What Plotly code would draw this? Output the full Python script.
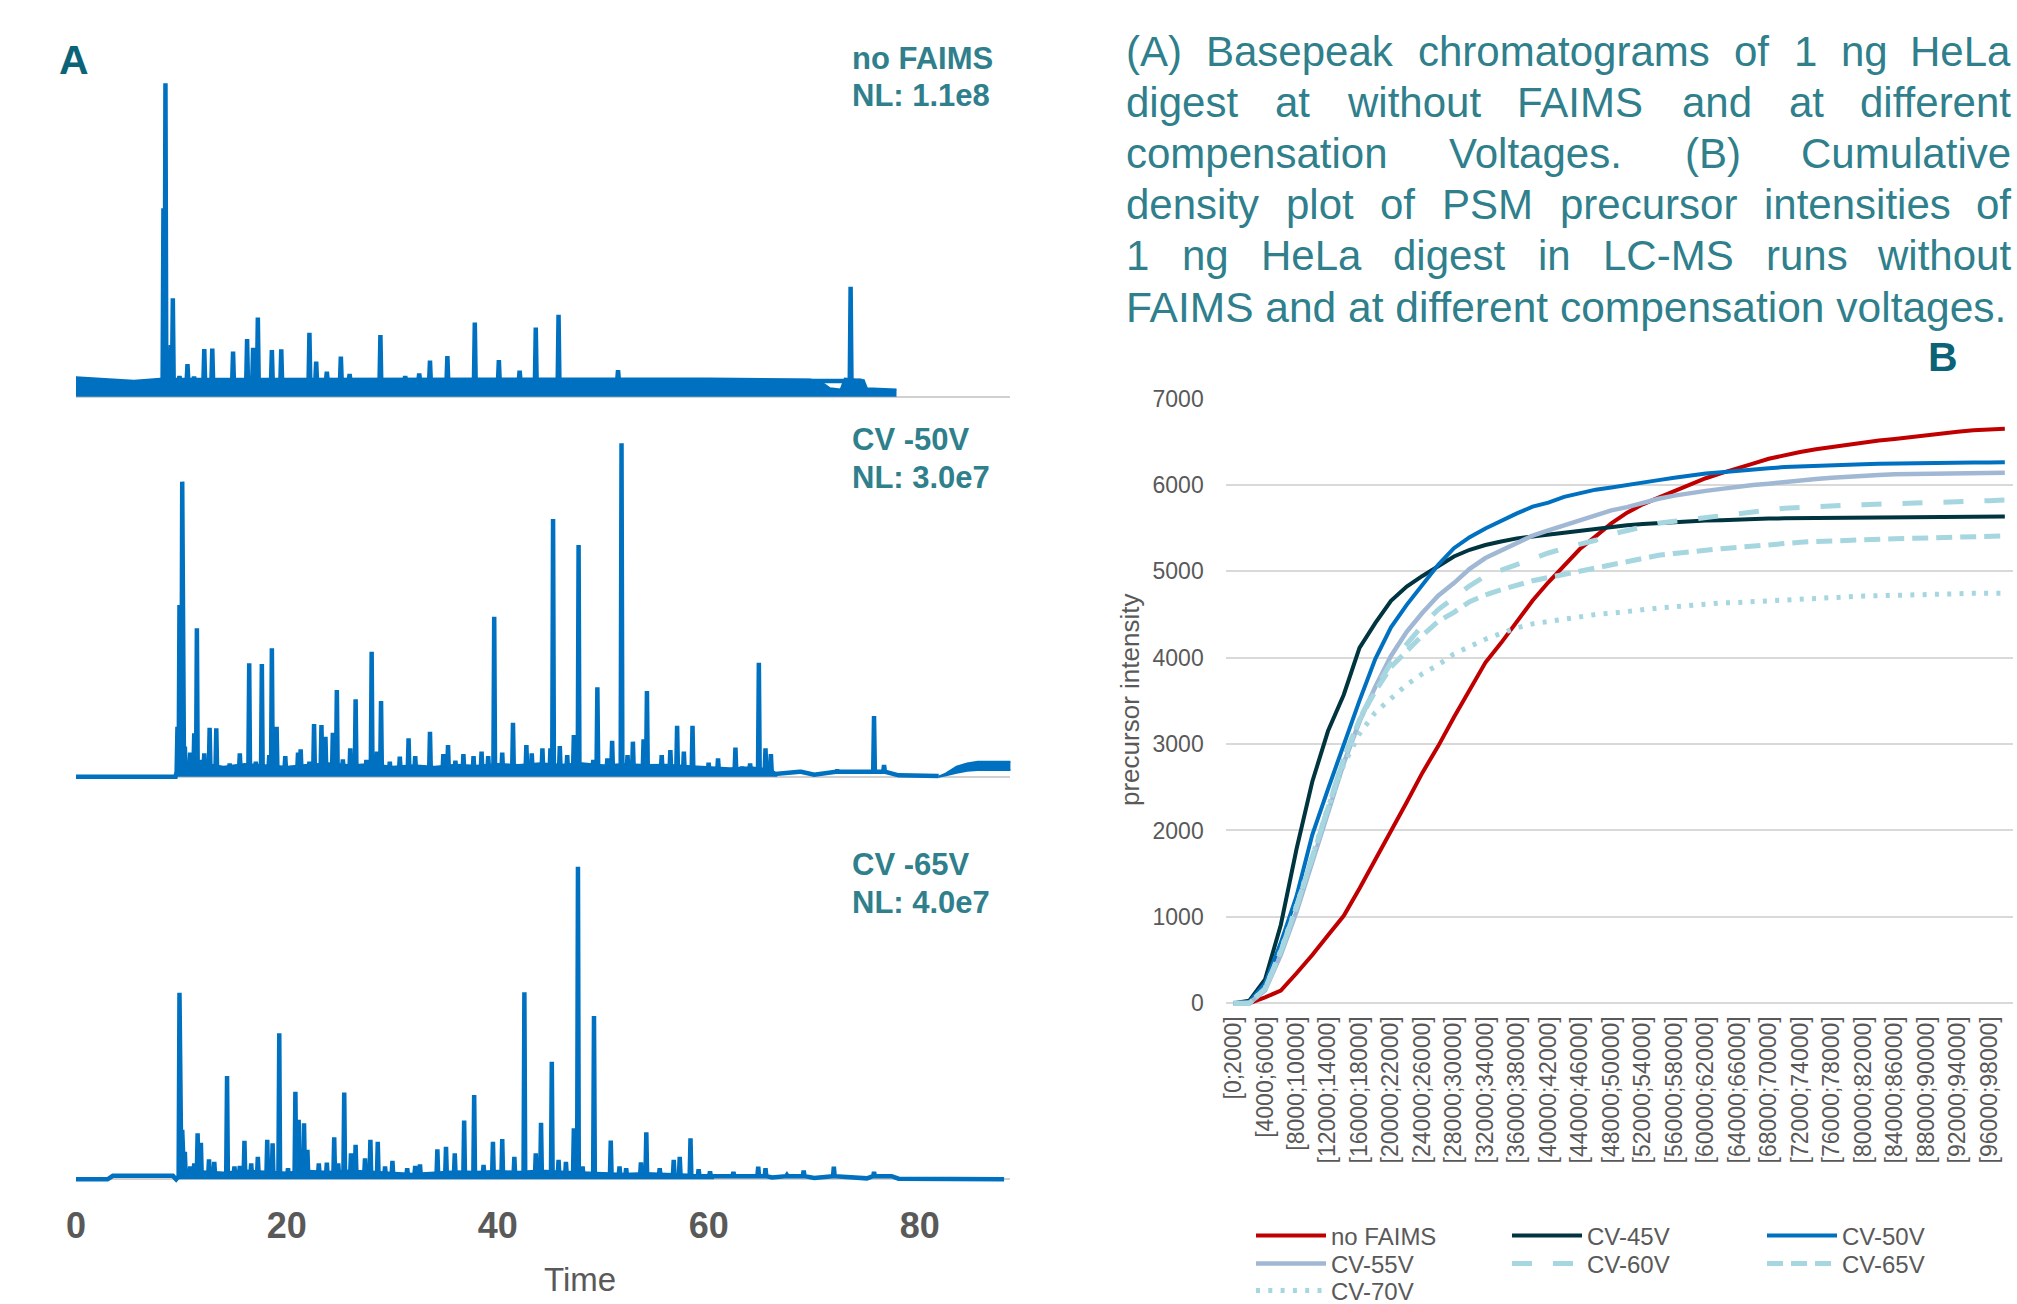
import plotly.graph_objects as go

W, H = 2017, 1304
FONT = "Liberation Sans, Arial, sans-serif"
TEAL = "#2F7F8C"
DARKTEAL = "#0B6377"
GRAY = "#595959"
BLUE = "#0070C0"


def px(x):
    return x / W


def py(y):
    return 1 - y / H


# ---------------- Panel A data (relative intensity, time in min) ----------------
# no FAIMS: thick noise band + peaks
top_band_t = [0, 2.0, 4.2, 5.5, 8.0, 20, 40, 60, 69.6, 70.6, 71.5, 72.5, 72.9, 74.7, 75.0, 77.8]
top_band_i = [0.062, 0.058, 0.055, 0.051, 0.057, 0.058, 0.058, 0.058, 0.055, 0.048, 0.027, 0.023, 0.058, 0.053,
              0.027, 0.023]
top_peak_t = [8.30, 8.49, 9.0, 9.19, 9.82, 10.58, 11.2, 12.17, 12.93, 14.9, 16.23, 16.8, 17.25, 18.58, 19.47,
              22.14, 22.78, 23.79, 25.12, 25.95, 28.87, 31.22, 32.55, 33.57, 35.22, 37.82, 40.1, 42.07, 43.6,
              45.76, 51.4, 71.35, 73.45, 74.3]
top_peak_i = [0.601, 1.0, 0.165, 0.314, 0.066, 0.104, 0.064, 0.152, 0.154, 0.144, 0.184, 0.156, 0.253, 0.149, 0.151,
              0.204, 0.112, 0.080, 0.128, 0.072, 0.197, 0.066, 0.074, 0.115, 0.130, 0.237, 0.117, 0.083, 0.221,
              0.261, 0.085, 0.051, 0.351, 0.055]

# CV -50V
mid_band_t = [9.5, 10.0, 12, 14, 16, 18, 20, 22, 24, 26, 28, 30, 32, 34, 36, 38, 40, 42, 44, 46, 48, 50,
              52, 54, 56, 58, 60, 62, 64, 65.9, 66.5]
mid_band_i = [0.0, 0.045, 0.04, 0.03, 0.038, 0.035, 0.03, 0.036, 0.04, 0.034, 0.038, 0.03, 0.034, 0.03, 0.036,
              0.033, 0.038, 0.035, 0.04, 0.036, 0.04, 0.034, 0.038, 0.035, 0.036, 0.032, 0.028, 0.025, 0.028,
              0.022, 0.004]
mid_tail_t = [81.8, 82.5, 83.5, 84.5, 85.5, 86.5, 87.5, 88.7]
mid_tail_lo = [0.0, 0.004, 0.012, 0.018, 0.02, 0.02, 0.02, 0.02]
mid_tail_hi = [0.0, 0.01, 0.03, 0.04, 0.045, 0.045, 0.047, 0.045]
mid_base_t = [0, 9.45, 66.3, 70.0, 78.0, 81.8]
mid_base_i = [0, 0, 0.008, 0.006, 0.004, 0.002]
mid_peak_t = [9.63, 9.82, 10.08, 10.33, 10.84, 11.22, 11.47, 11.85, 12.17, 12.68, 13.31, 14.58, 15.54, 16.43,
              17.06, 17.63, 18.33, 18.58, 19.03, 19.85, 21.06, 21.31, 22.14, 22.58, 23.28, 23.66, 24.36, 24.74,
              25.31, 26.01, 26.52, 27.54, 28.04, 28.55, 28.93, 29.76, 30.71, 31.54, 32.17, 33.57, 34.84, 35.28,
              35.98, 36.74, 37.7, 38.46, 39.09, 39.66, 40.42, 41.44, 42.71, 43.22, 44.23, 44.99, 45.24, 45.88,
              46.58, 47.21, 47.66, 49.05, 49.44, 50.39, 50.84, 51.73, 52.3, 52.81, 53.82, 54.14, 55.54, 56.36,
              57.0, 57.64, 58.46, 59.23, 59.99, 60.88, 62.53, 63.16, 63.92, 64.75, 65.38, 65.89,
              68.68, 72.18, 73.76, 75.67, 76.62]
mid_peak_i = [0.15, 0.515, 0.885, 0.09, 0.072, 0.13, 0.445, 0.05, 0.07, 0.147, 0.145, 0.04, 0.07, 0.34,
              0.045, 0.338, 0.065, 0.385, 0.15, 0.062, 0.072, 0.082, 0.045, 0.158, 0.155, 0.12, 0.132, 0.26,
              0.052, 0.085, 0.232, 0.05, 0.375, 0.075, 0.227, 0.045, 0.06, 0.115, 0.062, 0.135, 0.068, 0.095,
              0.048, 0.068, 0.062, 0.075, 0.062, 0.48, 0.072, 0.162, 0.095, 0.07, 0.085, 0.085, 0.773, 0.092,
              0.065, 0.125, 0.695, 0.05, 0.268, 0.055, 0.108, 1.0, 0.065, 0.105, 0.112, 0.257, 0.065, 0.08,
              0.153, 0.075, 0.153, 0.03, 0.042, 0.055, 0.087, 0.03, 0.04, 0.342, 0.085, 0.068,
              0.015, 0.02, 0.015, 0.182, 0.035]

# CV -65V
bot_band_t = [9.7, 10.0, 12, 14, 16, 18, 20, 22, 24, 26, 28, 30, 32, 34, 36, 38, 40, 42, 44, 46, 48, 50,
              52, 54, 56, 58, 60.5]
bot_band_i = [0.0, 0.03, 0.026, 0.022, 0.028, 0.025, 0.022, 0.027, 0.024, 0.028, 0.025, 0.02, 0.018, 0.022,
              0.026, 0.024, 0.027, 0.024, 0.028, 0.025, 0.022, 0.02, 0.018, 0.02, 0.017, 0.015, 0.004]
bot_base_t = [0, 3.0, 3.5, 9.2, 9.5, 66.0, 70.0, 75.0, 78.0, 88.0]
bot_base_i = [0, 0, 0.011, 0.011, 0.0, 0.006, 0.004, 0.003, 0.002, 0.0]
bot_peak_t = [9.82, 10.08, 10.33, 10.84, 11.22, 11.54, 11.85, 12.62, 13.12, 14.33, 15.03, 15.54, 15.98, 16.62,
              17.25, 18.14, 18.65, 19.28, 20.11, 20.81, 21.12, 21.63, 21.95, 23.03, 23.79, 24.49, 24.87, 25.44,
              26.08, 26.52, 27.41, 27.92, 28.62, 29.31, 30.01, 31.41, 32.17, 32.62, 34.27, 35.09, 35.92, 36.81,
              37.76, 38.65, 39.54, 40.42, 41.57, 42.52, 43.6, 44.1, 45.12, 45.76, 46.46, 47.21, 47.6, 48.04,
              49.12, 50.71, 51.54, 52.17, 53.57, 54.08, 55.35, 56.68, 57.25, 58.27, 59.04, 60.12, 62.34, 64.69,
              65.38, 67.41, 69.0, 71.86, 75.67, 77.25]
bot_peak_i = [0.597, 0.158, 0.088, 0.041, 0.051, 0.147, 0.117, 0.064, 0.056, 0.33, 0.041, 0.043, 0.123, 0.051,
              0.072, 0.126, 0.115, 0.467, 0.035, 0.28, 0.19, 0.179, 0.094, 0.051, 0.053, 0.134, 0.051, 0.278,
              0.083, 0.11, 0.067, 0.126, 0.12, 0.041, 0.059, 0.035, 0.043, 0.048, 0.096, 0.104, 0.083, 0.188,
              0.27, 0.046, 0.12, 0.129, 0.072, 0.598, 0.083, 0.181, 0.376, 0.062, 0.056, 0.163, 1.0, 0.041,
              0.522, 0.124, 0.041, 0.035, 0.054, 0.15, 0.035, 0.062, 0.072, 0.131, 0.032, 0.025, 0.024, 0.04,
              0.035, 0.014, 0.028, 0.04, 0.024, 0.011]

time_ticks = [0, 20, 40, 60, 80]

# ---------------- Panel B data ----------------
categories = ["[0;2000]", "[2000;4000]", "[4000;6000]", "[6000;8000]", "[8000;10000]",
              "[10000;12000]", "[12000;14000]", "[14000;16000]", "[16000;18000]", "[18000;20000]",
              "[20000;22000]", "[22000;24000]", "[24000;26000]", "[26000;28000]", "[28000;30000]",
              "[30000;32000]", "[32000;34000]", "[34000;36000]", "[36000;38000]", "[38000;40000]",
              "[40000;42000]", "[42000;44000]", "[44000;46000]", "[46000;48000]", "[48000;50000]",
              "[50000;52000]", "[52000;54000]", "[54000;56000]", "[56000;58000]", "[58000;60000]",
              "[60000;62000]", "[62000;64000]", "[64000;66000]", "[66000;68000]", "[68000;70000]",
              "[70000;72000]", "[72000;74000]", "[74000;76000]", "[76000;78000]", "[78000;80000]",
              "[80000;82000]", "[82000;84000]", "[84000;86000]", "[86000;88000]", "[88000;90000]",
              "[90000;92000]", "[92000;94000]", "[94000;96000]", "[96000;98000]", "[98000;100000]"]

no_faims = [0, 0, 69, 147, 348, 559, 788, 1012, 1328, 1658, 1978, 2327, 2670, 2977, 3311, 3636, 3943, 4172,
            4415, 4662, 4873, 5061, 5258, 5404, 5555, 5679, 5775, 5853, 5931, 6004, 6077, 6137, 6197, 6247,
            6302, 6343, 6380, 6412, 6439, 6467, 6490, 6513, 6531, 6554, 6577, 6595, 6614, 6632, 6641, 6650]
cv45 = [0, 30, 275, 907, 1786, 2565, 3151, 3572, 4113, 4401, 4658, 4823, 4946, 5061, 5171, 5249, 5304, 5345,
        5381, 5404, 5427, 5450, 5469, 5487, 5510, 5533, 5547, 5560, 5569, 5578, 5588, 5592, 5601, 5606, 5611,
        5613, 5615, 5617, 5619, 5620, 5621, 5622, 5623, 5624, 5626, 5627, 5629, 5630, 5632, 5633]
cv50 = [0, 15, 230, 700, 1240, 1950, 2480, 3000, 3504, 3985, 4351, 4612, 4841, 5075, 5267, 5395, 5496, 5588,
        5670, 5748, 5794, 5862, 5899, 5945, 5970, 5995, 6027, 6055, 6082, 6110, 6133, 6146, 6165, 6178, 6192,
        6206, 6215, 6222, 6229, 6233, 6240, 6245, 6249, 6252, 6254, 6256, 6257, 6258, 6259, 6261]
cv55 = [0, 0, 150, 560, 1060, 1640, 2210, 2780, 3260, 3660, 4020, 4300, 4520, 4717, 4864, 5029, 5153, 5244,
        5336, 5414, 5473, 5533, 5588, 5643, 5705, 5743, 5794, 5840, 5876, 5908, 5931, 5954, 5981, 6000, 6014,
        6036, 6055, 6068, 6082, 6096, 6110, 6114, 6123, 6125, 6128, 6130, 6135, 6137, 6139, 6142]
cv60 = [0, 0, 170, 600, 1120, 1700, 2280, 2840, 3290, 3640, 3939, 4168, 4374, 4557, 4694, 4832, 4946, 5015,
        5084, 5153, 5212, 5267, 5313, 5359, 5430, 5475, 5519, 5556, 5578, 5601, 5624, 5643, 5670, 5693, 5716,
        5730, 5739, 5752, 5762, 5766, 5771, 5775, 5785, 5794, 5798, 5803, 5807, 5812, 5817, 5826]
cv65 = [0, 0, 170, 600, 1120, 1700, 2280, 2830, 3280, 3610, 3893, 4076, 4259, 4420, 4525, 4649, 4727, 4786,
        4846, 4891, 4928, 4965, 5001, 5038, 5080, 5120, 5157, 5185, 5207, 5230, 5249, 5262, 5276, 5294, 5313,
        5322, 5336, 5345, 5354, 5359, 5368, 5372, 5377, 5381, 5386, 5390, 5395, 5400, 5404, 5409]
cv70 = [0, 0, 170, 610, 1130, 1710, 2270, 2760, 3120, 3366, 3527, 3687, 3815, 3916, 4044, 4131, 4214, 4282,
        4346, 4392, 4420, 4443, 4470, 4500, 4515, 4539, 4557, 4575, 4589, 4607, 4621, 4635, 4639, 4649, 4662,
        4672, 4681, 4690, 4699, 4708, 4713, 4717, 4724, 4731, 4731, 4736, 4740, 4745, 4745, 4745]
y_ticks_b = [0, 1000, 2000, 3000, 4000, 5000, 6000, 7000]

series_names = ["no FAIMS", "CV-45V", "CV-50V", "CV-55V", "CV-60V", "CV-65V", "CV-70V"]
series_values = [no_faims, cv45, cv50, cv55, cv60, cv65, cv70]

# ---------------- styles ----------------
series_style = [
    dict(color="#C00000", width=4, dash="solid"),
    dict(color="#00343F", width=4, dash="solid"),
    dict(color="#0070C0", width=4, dash="solid"),
    dict(color="#A0B8D3", width=4.5, dash="solid"),
    dict(color="#A6D6DF", width=5, dash="20px,21px"),
    dict(color="#A6D6DF", width=5, dash="16px,8px"),
    dict(color="#A6D6DF", width=5, dash="4px,8.3px"),
]
# legend slots (legend box left x px, row centre y px)
legend_pos = [(1251, 1236), (1507, 1236), (1762, 1236),
              (1251, 1264), (1507, 1264), (1762, 1264),
              (1251, 1291)]


def chrom_xy(base_t, base_i, peak_t, peak_i, floor, hw=0.08):
    pts = list(zip(base_t, base_i))
    for t, h in zip(peak_t, peak_i):
        pts += [(t - hw, floor), (t, h), (t + hw, floor)]
    pts.sort(key=lambda p: p[0])
    return [p[0] for p in pts], [p[1] for p in pts]


fig = go.Figure()


def band(x, y, xa, ya, width=2):
    fig.add_trace(go.Scatter(x=x, y=y, mode="lines", fill="tozeroy", fillcolor=BLUE,
                             line=dict(color=BLUE, width=width), xaxis=xa, yaxis=ya,
                             showlegend=False, hoverinfo="skip"))


# --- Panel A traces ---
band(top_band_t, top_band_i, "x", "y")
tx, ty = chrom_xy([], [], top_peak_t, top_peak_i, 0.05)
fig.add_trace(go.Scatter(x=tx, y=ty, mode="lines", line=dict(color=BLUE, width=4.5),
                         xaxis="x", yaxis="y", showlegend=False))

band(mid_band_t, mid_band_i, "x2", "y2")
fig.add_trace(go.Scatter(x=mid_tail_t, y=mid_tail_lo, mode="lines", line=dict(color=BLUE, width=2),
                         xaxis="x2", yaxis="y2", showlegend=False))
fig.add_trace(go.Scatter(x=mid_tail_t, y=mid_tail_hi, mode="lines", fill="tonexty", fillcolor=BLUE,
                         line=dict(color=BLUE, width=2), xaxis="x2", yaxis="y2", showlegend=False))
mx, my = chrom_xy(mid_base_t, mid_base_i, mid_peak_t, mid_peak_i, 0.015)
fig.add_trace(go.Scatter(x=mx, y=my, mode="lines", line=dict(color=BLUE, width=4.5),
                         xaxis="x2", yaxis="y2", showlegend=False))

band(bot_band_t, bot_band_i, "x3", "y3")
bx, by = chrom_xy(bot_base_t, bot_base_i, bot_peak_t, bot_peak_i, 0.01)
fig.add_trace(go.Scatter(x=bx, y=by, mode="lines", line=dict(color=BLUE, width=4.5),
                         xaxis="x3", yaxis="y3", showlegend=False))

# --- Panel B traces ---
xidx = list(range(len(categories)))
for k, (name, vals, st) in enumerate(zip(series_names, series_values, series_style)):
    lg = "legend" if k == 0 else f"legend{k + 1}"
    fig.add_trace(go.Scatter(x=xidx, y=vals, name=name, mode="lines",
                             line=dict(color=st["color"], width=st["width"], dash=st["dash"]),
                             xaxis="x4", yaxis="y4", legend=lg, showlegend=True))

# ---------------- axes ----------------
A_X0 = 75.9
A_PPM = 10.5475
A_XMAX = 88.6
a_xdom = [px(A_X0), px(A_X0 + A_XMAX * A_PPM)]


def ydom(p0, p1, lo, hi):
    s = p0 - p1
    return [py(p0 - lo * s), py(p0 - hi * s)]


lo, hi = -0.03, 1.03
layout_axes = {}
for i, (p0, p1) in enumerate([(396.7, 83.3), (776.7, 443.3), (1179.3, 866.7)]):
    sfx = "" if i == 0 else str(i + 1)
    layout_axes["xaxis" + sfx] = dict(domain=a_xdom, range=[0, A_XMAX], anchor="y" + sfx,
                                      showgrid=False, zeroline=False, showline=False,
                                      showticklabels=(i == 2), ticks="",
                                      tickvals=time_ticks,
                                      tickfont=dict(family=FONT, size=36, color=GRAY, weight="bold"),
                                      ticklabelstandoff=12)
    layout_axes["yaxis" + sfx] = dict(domain=ydom(p0, p1, lo, hi), range=[lo, hi], anchor="x" + sfx,
                                      showgrid=False, showticklabels=False, ticks="",
                                      zeroline=True, zerolinecolor="#D0D0D0", zerolinewidth=2,
                                      showline=False)

b_s = (1003.3 - 398.5) / 7000.0
b_lo, b_hi = -40, 7010
layout_axes["xaxis4"] = dict(domain=[px(1225.7), px(2012.7)], range=[-0.5, 49.5], anchor="y4",
                             showgrid=False, zeroline=False, showline=False, ticks="",
                             tickmode="array", tickvals=xidx[::2], ticktext=categories[::2],
                             tickangle=-90, tickfont=dict(family=FONT, size=23, color=GRAY),
                             ticklabelstandoff=4)
layout_axes["yaxis4"] = dict(domain=[py(1003.3 - b_lo * b_s), py(1003.3 - b_hi * b_s)],
                             range=[b_lo, b_hi], anchor="x4",
                             showgrid=True, gridcolor="#D9D9D9", gridwidth=2, zeroline=False,
                             showline=False, ticks="", tickmode="array", tickvals=y_ticks_b,
                             tickfont=dict(family=FONT, size=23, color=GRAY), ticklabelstandoff=21)

fig.update_layout(**layout_axes)

# ---------------- legends ----------------
leg = {}
for k, (lx, ly) in enumerate(legend_pos):
    key = "legend" if k == 0 else f"legend{k + 1}"
    leg[key] = dict(x=px(lx), y=py(ly), xanchor="left", yanchor="middle", orientation="v",
                    font=dict(family=FONT, size=24, color=GRAY), bgcolor="rgba(0,0,0,0)",
                    borderwidth=0, itemwidth=70, tracegroupgap=0)
fig.update_layout(**leg)

# ---------------- annotations ----------------
ann = []


def text(x, y, s, size, color, bold=False, xanchor="left", angle=0):
    ann.append(dict(xref="paper", yref="paper", x=px(x), y=py(y), text=s, showarrow=False,
                    xanchor=xanchor, yanchor="middle", textangle=angle, borderpad=0,
                    font=dict(family=FONT, size=size, color=color, weight="bold" if bold else "normal")))


text(73.5, 60, "A", 41, DARKTEAL, True, "center")
text(1943, 357, "B", 41, DARKTEAL, True, "center")
text(851, 58.5, "no FAIMS", 31, TEAL, True)
text(851, 95.8, "NL: 1.1e8", 31, TEAL, True)
text(851, 439.2, "CV -50V", 31, TEAL, True)
text(851, 477.5, "NL: 3.0e7", 31, TEAL, True)
text(851, 864.2, "CV -65V", 31, TEAL, True)
text(851, 902.5, "NL: 4.0e7", 31, TEAL, True)
text(580, 1279, "Time", 33, GRAY, False, "center")
text(1130, 700, "precursor intensity", 26, GRAY, False, "center", -90)

# justified caption
caption_lines = ["(A) Basepeak chromatograms of 1 ng HeLa",
                 "digest at without FAIMS and at different",
                 "compensation Voltages. (B) Cumulative",
                 "density plot of PSM precursor intensities of",
                 "1 ng HeLa digest in LC-MS runs without",
                 "FAIMS and at different compensation voltages."]
CW = {' ': 278, '(': 333, ')': 333, '.': 278, '-': 333, 'A': 667, 'B': 667, 'C': 722, 'F': 611, 'H': 722,
      'I': 278, 'L': 556, 'M': 833, 'P': 667, 'S': 667, 'V': 667, 'a': 556, 'b': 556, 'c': 500, 'd': 556,
      'e': 556, 'f': 278, 'g': 556, 'h': 556, 'i': 222, 'k': 500, 'l': 222, 'm': 833, 'n': 556, 'o': 556,
      'p': 556, 'r': 333, 's': 500, 't': 278, 'u': 556, 'v': 500, 'w': 722, 'y': 500, '1': 556}
CAP_FS = 42
CAP_L, CAP_R = 1125, 2012
for li, line in enumerate(caption_lines):
    yc = 51.0 + 51.2 * li
    if li == len(caption_lines) - 1:
        text(CAP_L, yc, line, 42.5, TEAL)
        continue
    words = line.split()
    widths = [sum(CW.get(c, 556) for c in w) * CAP_FS / 1000.0 for w in words]
    gap = (CAP_R - CAP_L - sum(widths)) / (len(words) - 1)
    x = CAP_L
    for wi, (w, wd) in enumerate(zip(words, widths)):
        if wi == len(words) - 1:
            text(CAP_R, yc, w, CAP_FS, TEAL, False, "right")
        else:
            text(x, yc, w, CAP_FS, TEAL)
        x += wd + gap

fig.update_layout(width=W, height=H, margin=dict(l=0, r=0, t=0, b=0, pad=0, autoexpand=False),
                  paper_bgcolor="white", plot_bgcolor="white", annotations=ann,
                  font=dict(family=FONT, color=GRAY), hovermode=False)

fig.write_html("out.html")
